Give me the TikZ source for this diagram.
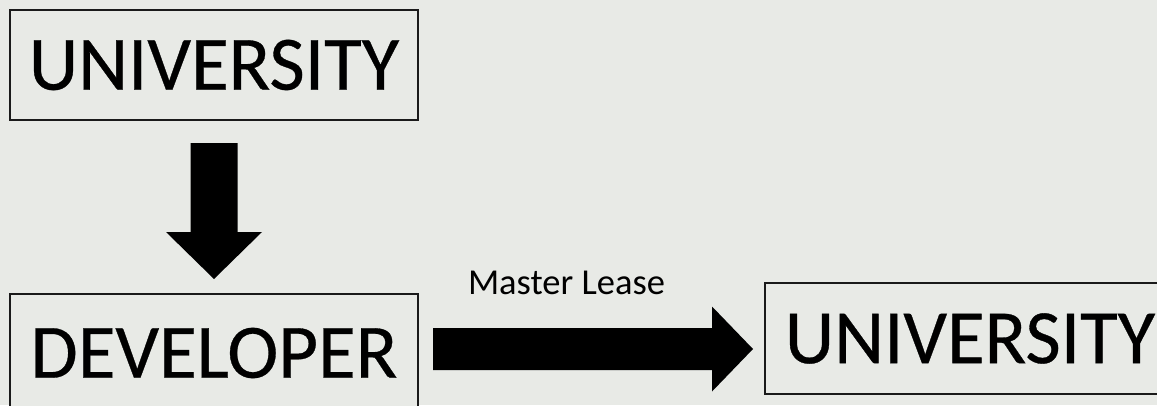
\documentclass[tikz,border=0pt]{standalone}
\usepackage{fontspec}
\setmainfont{Carlito}
\usetikzlibrary{calc}
\definecolor{bg}{RGB}{232,234,230}
\definecolor{edge}{RGB}{26,26,26}
\tikzset{
  party/.style={draw=edge, line width=2pt, fill=bg, inner sep=0pt,
    font=\fontsize{77}{80}\selectfont\addfontfeature{FakeBold=0.4}},
  bigarrow/.style={fill=black},
  lbl/.style={font=\fontsize{36.5}{40}\selectfont, inner sep=0pt}
}
\begin{document}
\begin{tikzpicture}[x=1pt,y=-1pt]
  \fill[bg] (0,0) rectangle (1157,405);
  \useasboundingbox (0,0) rectangle (1157,405);
  \begin{scope}
    \clip (0,0) rectangle (1157,405);
    % the three parties
    \node[party, minimum width=408pt, minimum height=110pt] (u1) at (214,65) {UNIVERSITY};
    \node[party, minimum width=408pt, minimum height=118pt] (dev) at (214,353) {DEVELOPER};
    \node[party, minimum width=410pt, minimum height=111pt] (u2) at (970,338.5) {UNIVERSITY};
    % block arrow from the university down to the developer
    \fill[bigarrow]
      ($(u1.south)+(-23.5,22)$) -- ($(u1.south)+(23.5,22)$) --
      ($(dev.north)+(23.5,-61)$) -- ($(dev.north)+(48,-61)$) --
      ($(dev.north)+(0,-14)$) --
      ($(dev.north)+(-48,-61)$) -- ($(dev.north)+(-23.5,-61)$) -- cycle;
    % block arrow from the developer to the university (master lease)
    \coordinate (ml0) at ($(dev.east)+(14,-4)$);
    \coordinate (ml1) at ($(u2.west)+(-11,10.5)$);
    \fill[bigarrow]
      ($(ml0)+(0,-21)$) -- ($(ml1)+(-41,-21)$) -- ($(ml1)+(-41,-42.5)$) --
      (ml1) --
      ($(ml1)+(-41,42.5)$) -- ($(ml1)+(-41,21)$) -- ($(ml0)+(0,21)$) -- cycle;
    \node[lbl, anchor=base] (ml) at (566.5,294) {Master Lease};
  \end{scope}
\end{tikzpicture}
\end{document}
